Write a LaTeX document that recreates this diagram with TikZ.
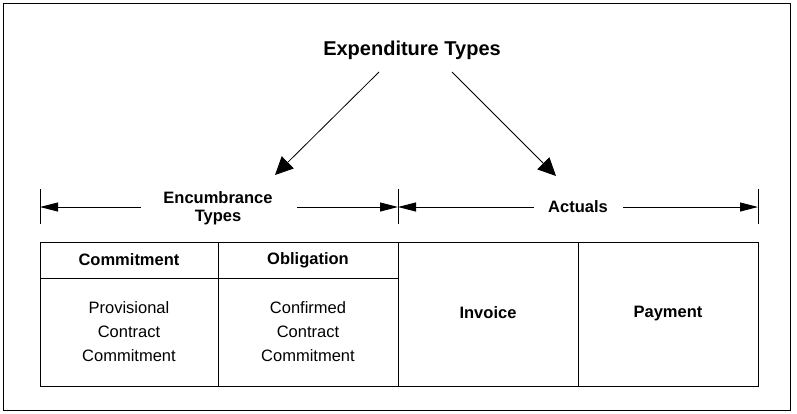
\documentclass[tikz,border=0pt]{standalone}
\usepackage{fontspec}
\setmainfont{Liberation Sans}
\usetikzlibrary{arrows.meta}
\begin{document}
\begin{tikzpicture}[x=1pt,y=-1pt,line width=1pt,
  cell/.style={draw,inner sep=0pt,outer sep=0pt,anchor=center,align=center,
    font=\fontsize{16.5}{24}\selectfont},
  head/.style={cell,font=\fontsize{16.5}{24}\selectfont\bfseries},
  lbl/.style={inner sep=0pt,align=center,font=\fontsize{16.5}{18}\selectfont\bfseries},
  dimarrow/.style={-{Triangle[length=18pt,width=9pt]}},
  bigarrow/.style={-{Triangle[length=18pt,width=17pt]},line width=0.8pt},
  tick/.style={line width=0.8pt}]
\useasboundingbox (0,0) rectangle (797,413);
\draw (3,3) rectangle (790,410);

% title
\node[inner sep=0pt,font=\fontsize{20}{24}\selectfont\bfseries] (title) at (412,50) {Expenditure Types};
\coordinate (tl) at (379,72);
\coordinate (tr) at (452,72);
\coordinate (el) at (275,175);
\coordinate (er) at (556,176);
\draw[bigarrow] (tl) -- (el);
\draw[bigarrow] (tr) -- (er);

% dimension labels
\node[lbl] (enc) at (218,208) {Encumbrance\\Types};
\node[lbl] (act) at (578,207) {Actuals};

% ticks
\coordinate (t1a) at (40,189); \coordinate (t1b) at (40,224);
\coordinate (t2a) at (398,189); \coordinate (t2b) at (398,224);
\coordinate (t3a) at (758,189); \coordinate (t3b) at (758,224);
\draw[tick] (t1a) -- (t1b);
\draw[tick] (t2a) -- (t2b);
\draw[tick] (t3a) -- (t3b);

\coordinate (d1) at (40,207); \coordinate (d1e) at (141,207);
\coordinate (d2) at (398,207); \coordinate (d2e) at (297,207);
\coordinate (d3e) at (534,207); \coordinate (d4e) at (623,207);
\coordinate (d4) at (758,207);
\draw[dimarrow] (d1e) -- (d1);
\draw[dimarrow] (d2e) -- (d2);
\draw[dimarrow] (d3e) -- (d2);
\draw[dimarrow] (d4e) -- (d4);

% table
\node[head,minimum width=178pt,minimum height=36pt] (comh) at (129,260) {Commitment};
\node[head,minimum width=180pt,minimum height=36pt] (oblh) at (308,260) {\raisebox{1pt}{Obligation}};
\node[cell,minimum width=178pt,minimum height=108pt] (comb) at (129,332) {Provisional\\Contract\\Commitment};
\node[cell,minimum width=180pt,minimum height=108pt] (oblb) at (308,332) {Confirmed\\Contract\\Commitment};
\node[head,minimum width=180pt,minimum height=144pt] (inv) at (488,314) {Invoice\vphantom{Py}};
\node[head,minimum width=180pt,minimum height=144pt] (pay) at (668,314) {Payment\vphantom{Py}};
\end{tikzpicture}
\end{document}
